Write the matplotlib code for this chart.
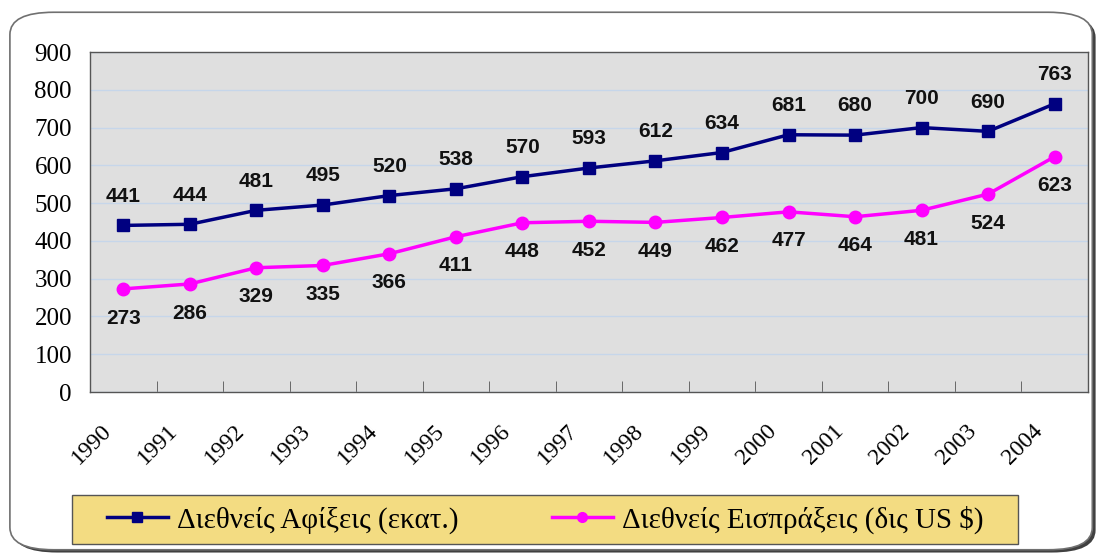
import matplotlib
matplotlib.use("Agg")
import matplotlib.pyplot as plt
from matplotlib.patches import FancyBboxPatch, Rectangle
from matplotlib.transforms import ScaledTranslation

years = ["1990", "1991", "1992", "1993", "1994", "1995", "1996", "1997",
         "1998", "1999", "2000", "2001", "2002", "2003", "2004"]
arrivals = [441, 444, 481, 495, 520, 538, 570, 593, 612, 634, 681, 680, 700, 690, 763]
receipts = [273, 286, 329, 335, 366, 411, 448, 452, 449, 462, 477, 464, 481, 524, 623]

label_arrivals = "Διεθνείς Αφίξεις (εκατ.)"
label_receipts = "Διεθνείς Εισπράξεις (δις US $)"

serif = ["Liberation Serif", "DejaVu Serif"]
sans = ["Liberation Sans", "DejaVu Sans"]

fig = plt.figure(figsize=(11, 5.57), dpi=100)

# outer rounded frame with a little shadow
shadow = FancyBboxPatch((0.012, 0.008), 0.984, 0.965,
                        boxstyle="round,pad=0,rounding_size=0.04",
                        transform=fig.transFigure, facecolor="#404040",
                        edgecolor="none", zorder=-3)
frame = FancyBboxPatch((0.009, 0.013), 0.984, 0.965,
                       boxstyle="round,pad=0,rounding_size=0.04",
                       transform=fig.transFigure, facecolor="white",
                       edgecolor="#707070", linewidth=1.2, zorder=-2)
legbox = Rectangle((0.0655, 0.023), 0.86, 0.088, transform=fig.transFigure,
                   facecolor="#f3dc82", edgecolor="#555555", linewidth=1.0,
                   zorder=-1)
fig.patches.extend([shadow, frame, legbox])

ax = fig.add_axes([0.0818, 0.2962, 0.9072, 0.6104])
ax.set_facecolor("#dfdfdf")
x = list(range(len(years)))

ax.set_xlim(-0.5, len(years) - 0.5)
ax.set_ylim(0, 900)
ax.set_yticks(range(0, 1000, 100))
ax.yaxis.grid(True, color="#c6d6ea", linewidth=1.0)
ax.set_axisbelow(True)

ax.plot(x, arrivals, color="#000080", linewidth=2.5, marker="s",
        markersize=9, zorder=3, label=label_arrivals)
ax.plot(x, receipts, color="#ff00ff", linewidth=2.5, marker="o",
        markersize=9, zorder=3, label=label_receipts)

for xi, v in zip(x, arrivals):
    ax.annotate(str(v), (xi, v), xytext=(0, 21), textcoords="offset points",
                ha="center", va="center", fontsize=15, fontweight="bold",
                family=sans, color="#111111", zorder=4)
for xi, v in zip(x, receipts):
    ax.annotate(str(v), (xi, v), xytext=(0, -21), textcoords="offset points",
                ha="center", va="center", fontsize=15, fontweight="bold",
                family=sans, color="#111111", zorder=4)

ax.set_xticks(x)
ax.set_xticklabels(years, rotation=45, ha="right", va="center",
                   rotation_mode="anchor", fontsize=17, family=serif)
ax.set_xticks([i + 0.5 for i in x[:-1]], minor=True)
ax.tick_params(axis="x", which="major", length=0, pad=0)
ax.tick_params(axis="x", which="minor", length=8, direction="in", color="#555555")
ax.tick_params(axis="y", length=0, pad=13)
for lbl in ax.get_yticklabels():
    lbl.set_family(serif)
    lbl.set_fontsize(18)

# shift year labels down and a bit left, like the original
shift = ScaledTranslation(-15 / 100, -36 / 100, fig.dpi_scale_trans)
for lbl in ax.get_xticklabels():
    lbl.set_transform(lbl.get_transform() + shift)

for s in ax.spines.values():
    s.set_color("#555555")
    s.set_linewidth(1.0)

handles, labels = ax.get_legend_handles_labels()
leg = fig.legend(handles, labels, loc="center left",
                 bbox_to_anchor=(0.097, 0.067),
                 ncol=2, frameon=False,
                 prop={"family": serif, "size": 21}, handlelength=2.1,
                 handletextpad=0.3, columnspacing=3.2, borderaxespad=0,
                 borderpad=0)
for h in leg.legend_handles:
    h.set_markersize(7)

fig.savefig("out.png", dpi=100)
